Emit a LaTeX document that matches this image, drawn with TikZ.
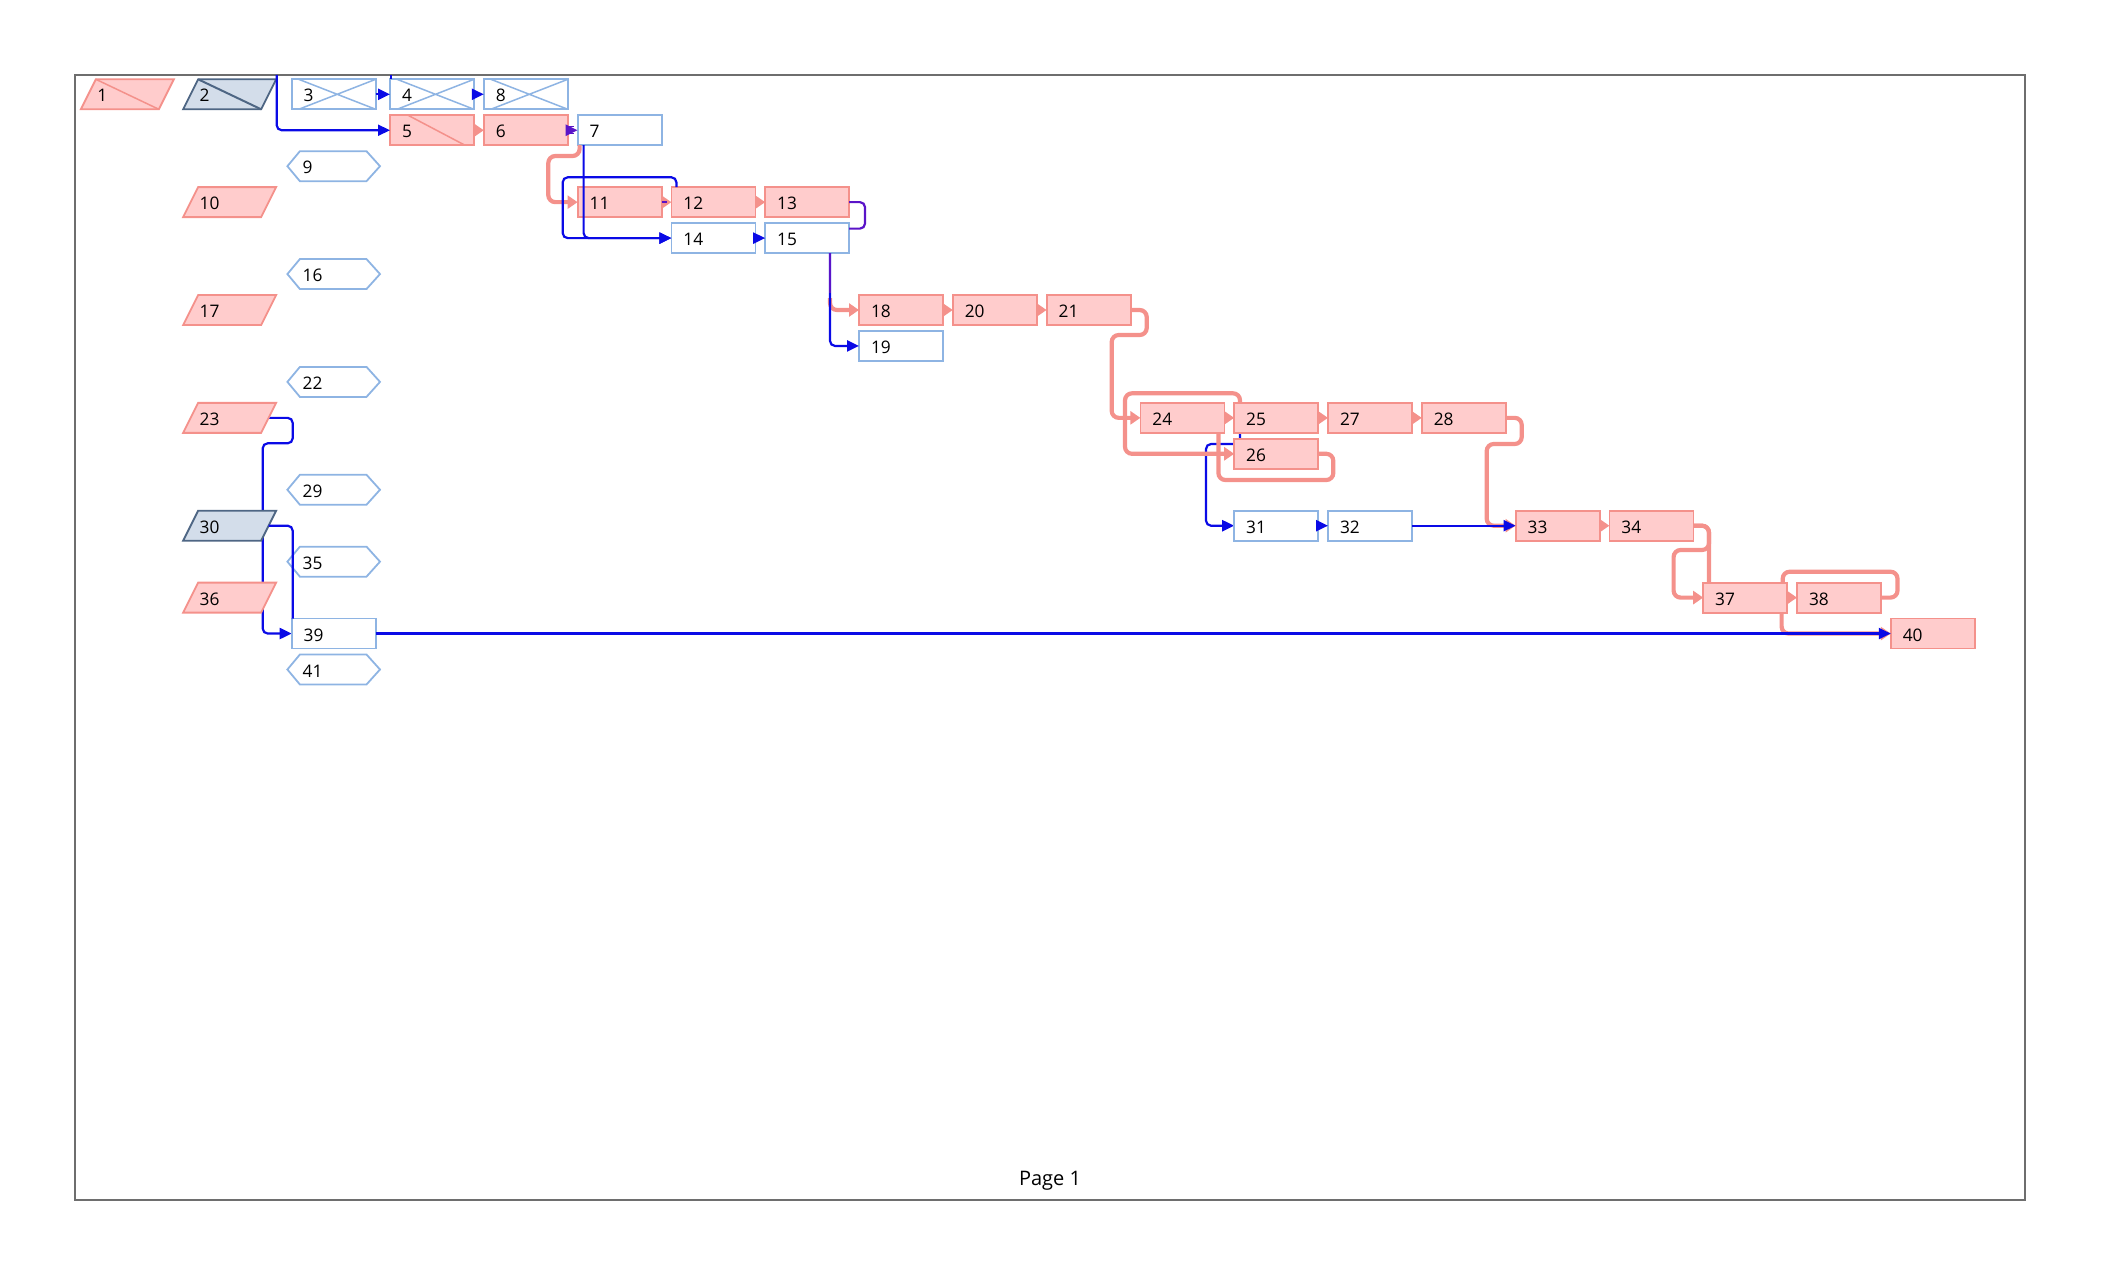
\documentclass[tikz,border=0pt]{standalone}
\usepackage{fontspec}
\setmainfont{Open Sans}
\usetikzlibrary{arrows.meta,calc}
\definecolor{pkfill}{HTML}{FFCCCC}
\definecolor{pkline}{HTML}{F4918B}
\definecolor{bxblue}{HTML}{8EB4E3}
\definecolor{lkblue}{HTML}{0A0AE6}
\definecolor{lkviolet}{HTML}{5A14C8}
\definecolor{gbfill}{HTML}{D3DDEA}
\definecolor{gbline}{HTML}{4E6684}
\definecolor{framegrey}{HTML}{6E6E6E}
\pgfdeclarelayer{back}
\pgfdeclarelayer{shapes}
\pgfsetlayers{back,shapes,main}
\newcommand\myhex[1]{\begin{pgfonlayer}{shapes}\path[hexline] (#1.west) -- ([xshift=12.5pt]#1.north west) -- ([xshift=-13.5pt]#1.north east) -- (#1.east) -- ([xshift=-13.5pt]#1.south east) -- ([xshift=12.5pt]#1.south west) -- cycle;\end{pgfonlayer}}
\newcommand\mypara[2]{\begin{pgfonlayer}{shapes}\path[#2] (#1.south west) -- ([xshift=15pt]#1.north west) -- (#1.north east) -- ([xshift=-15pt]#1.south east) -- cycle;\end{pgfonlayer}}
\newcommand\myparadiag[2]{\begin{pgfonlayer}{shapes}\draw[#2] ([xshift=15pt]#1.north west) -- ([xshift=-15pt]#1.south east);\end{pgfonlayer}}
\begin{document}
\begin{tikzpicture}[x=1pt,y=-1pt,
 lbl/.style={font=\fontsize{17.3}{20}\selectfont, align=left, inner ysep=0pt, outer sep=0pt, minimum height=30pt, text height=15.4pt, text depth=0pt},
 boxbase/.style={lbl, rectangle, line width=1.8pt, minimum width=84pt, text width=60pt, inner xsep=12pt},
 pinkbox/.style={boxbase, draw=pkline, fill=pkfill},
 bluebox/.style={boxbase, draw=bxblue, fill=white},
 crossbox/.style={bluebox, path picture={\draw[bxblue,line width=1.5pt] ([xshift=7pt]path picture bounding box.north west) -- (path picture bounding box.south east) ([xshift=7pt]path picture bounding box.south west) -- (path picture bounding box.north east);}},
 slashbox/.style={pinkbox, path picture={\draw[pkline,line width=1.5pt] ([xshift=18pt]path picture bounding box.north west) -- ([xshift=-9pt]path picture bounding box.south east);}},
 paranode/.style={lbl, rectangle, minimum width=93pt, text width=60pt, inner xsep=16.5pt},
 hexnode/.style={lbl, rectangle, minimum width=92.6pt, text width=62pt, inner xsep=15.3pt},
 pinkpara/.style={draw=pkline, fill=pkfill, line width=1.8pt},
 greypara/.style={draw=gbline, fill=gbfill, line width=1.8pt},
 hexline/.style={draw=bxblue, fill=white, line width=1.8pt},
 bl/.style={draw=lkblue, line width=2.2pt, rounded corners=5pt},
 pk/.style={draw=pkline, line width=4.2pt, rounded corners=7pt},
 btip/.style={-{Triangle[length=12pt,width=11pt]}},
 ptip/.style={-{Triangle[length=10pt,width=13pt]}},
]
\useasboundingbox (0,0) rectangle (2101,1276);
\draw[framegrey, line width=1.5pt] (75,75) rectangle (2025,1200);
\node[font=\fontsize{20}{24}\selectfont, anchor=base] (pg) at (1050,1185.7) {Page 1};

% parallelograms
\node[paranode] (n1) at (127.35,94.3) {1};
\mypara{n1}{pinkpara}\myparadiag{n1}{pkline,line width=1.5pt}
\node[paranode] (n2) at (229.65,94.3) {2};
\mypara{n2}{greypara}\myparadiag{n2}{gbline,line width=2pt}
\node[paranode] (n10) at (229.65,202.15) {10};
\mypara{n10}{pinkpara}
\node[paranode] (n17) at (229.65,310.0) {17};
\mypara{n17}{pinkpara}
\node[paranode] (n23) at (229.65,417.85) {23};
\mypara{n23}{pinkpara}
\node[paranode] (n30) at (229.65,525.7) {30};
\mypara{n30}{greypara}
\node[paranode] (n36) at (229.65,597.6) {36};
\mypara{n36}{pinkpara}

% hexagons
\node[hexnode] (n9) at (333.7,166.2) {9};\myhex{n9}
\node[hexnode] (n16) at (333.7,274.05) {16};\myhex{n16}
\node[hexnode] (n22) at (333.7,381.9) {22};\myhex{n22}
\node[hexnode] (n29) at (333.7,489.75) {29};\myhex{n29}
\node[hexnode] (n35) at (333.7,561.65) {35};\myhex{n35}
\node[hexnode] (n41) at (333.7,669.5) {41};\myhex{n41}

% boxes
\node[crossbox] (n3) at (333.7,94.3) {3};
\node[crossbox] (n4) at (432,94.3) {4};
\node[crossbox] (n8) at (525.8,94.3) {8};
\node[slashbox] (n5) at (432,130.25) {5};
\node[pinkbox] (n6) at (525.8,130.25) {6};
\node[bluebox] (n7) at (619.6,130.25) {7};
\node[pinkbox] (n11) at (619.6,202.15) {11};
\node[pinkbox] (n12) at (713.4,202.15) {12};
\node[pinkbox] (n13) at (807.2,202.15) {13};
\node[bluebox] (n14) at (713.4,238.1) {14};
\node[bluebox] (n15) at (807.2,238.1) {15};
\node[pinkbox] (n18) at (901,310.0) {18};
\node[pinkbox] (n20) at (994.8,310.0) {20};
\node[pinkbox] (n21) at (1088.6,310.0) {21};
\node[bluebox] (n19) at (901,345.95) {19};
\node[pinkbox] (n24) at (1182.4,417.85) {24};
\node[pinkbox] (n25) at (1276.2,417.85) {25};
\node[pinkbox] (n27) at (1370,417.85) {27};
\node[pinkbox] (n28) at (1463.8,417.85) {28};
\node[pinkbox] (n26) at (1276.2,453.8) {26};
\node[bluebox] (n31) at (1276.2,525.7) {31};
\node[bluebox] (n32) at (1370,525.7) {32};
\node[pinkbox] (n33) at (1557.6,525.7) {33};
\node[pinkbox] (n34) at (1651.4,525.7) {34};
\node[pinkbox] (n37) at (1745.2,597.6) {37};
\node[pinkbox] (n38) at (1839,597.6) {38};
\node[bluebox] (n39) at (333.7,633.55) {39};
\node[pinkbox] (n40) at (1932.8,633.55) {40};

% connectors under the nodes
\begin{pgfonlayer}{back}
\draw[bl,btip] ([xshift=-7.5pt]n23.east) -| (292.7,443.3) -| (262.7,633.55) -- (n39.west);
\draw[bl,btip] ([xshift=5.8pt]n25.south west) |- (1206,444) |- (n31.west);
\end{pgfonlayer}

% connectors
\coordinate (t1) at (276.7,75);
\coordinate (t2) at (391,75);
\draw[bl,btip] (t1) |- (n5.west);
\draw[bl] (t2) -- (t2 |- n4.north);
\draw[bl,btip] (n3.east) -- (n4.west);
\draw[bl,btip] (n4.east) -- (n8.west);
\draw[pk,ptip] (n5.east) -- (n6.west);
\draw[lkviolet,line width=1.2pt] ([yshift=3.5pt]n6.east) -- ([yshift=3.5pt,xshift=-4pt]n7.west);
\draw[lkviolet,line width=1.2pt] ([yshift=-3.5pt]n6.east) -- ([yshift=-3.5pt,xshift=-4pt]n7.west);
\draw[bl,btip,draw=lkviolet] (n6.east) -- (n7.west);

\draw[pk,ptip] ([xshift=2pt]n7.south west) |- (548.3,156) |- (n11.west);
\draw[bl,btip] ([xshift=6pt]n7.south west) |- (n14.west);
\draw[bl,btip] ([xshift=5pt]n12.north west) |- (562.7,177.3) |- (n14.west);
\draw[pk,ptip] (n11.east) -- (n12.west);
\draw[lkviolet,line width=2.2pt] (n11.east) -- ++(5,0);
\draw[pk,ptip] (n12.east) -- (n13.west);
\draw[bl,draw=lkviolet] (n13.east) -| (865,228.6) -- ($(n15.east)+(0,-9.5)$);
\draw[bl,btip] (n14.east) -- (n15.west);

\draw[pk,ptip] ($(n15.south west)+(64.8,45)$) |- (n18.west);
\draw[bl,btip] ([xshift=64.8pt]n15.south west) |- (n19.west);
\draw[lkviolet,line width=2.2pt] ([xshift=64.8pt]n15.south west) -- ++(0,40);
\draw[pk,ptip] (n18.east) -- (n20.west);
\draw[pk,ptip] (n20.east) -- (n21.west);
\draw[pk,ptip] (n21.east) -| (1146.7,335) -| (1111.7,417.85) -- (n24.west);
\draw[pk,ptip] (n24.east) -- (n25.west);
\draw[pk,ptip] ([xshift=5.8pt]n25.north west) |- (1125,393.3) |- (n26.west);
\draw[pk] ([xshift=-6pt]n24.south east) |- (1333.3,480) |- (n26.east);
\draw[pk,ptip] (n25.east) -- (n27.west);
\draw[pk,ptip] (n27.east) -- (n28.west);
\draw[bl,btip] (n31.east) -- (n32.west);
\draw[pk,ptip] (n28.east) -| (1521.7,444) -| (1486.7,525.7) -- (n33.west);
\draw[bl,btip] (n32.east) -- (n33.west);
\draw[pk,ptip] (n33.east) -- (n34.west);
\draw[pk,ptip] (n34.east) -| (1709,550) -| (1673.6,597.6) -- (n37.west);
\draw[pk] (n34.east) -| ([xshift=5.8pt]n37.north west);
\draw[pk,ptip] (n37.east) -- (n38.west);
\draw[pk] (n38.east) -| (1897.5,571.7) -| ([xshift=-4.5pt]n37.north east);
\draw[pk,ptip] ([xshift=-5.6pt]n37.south east) |- (n40.west);
\draw[bl,btip] (n39.east) -- (n40.west);
\draw[bl] ([xshift=-7.5pt]n30.east) -| ([xshift=1pt]n39.north west);
\end{tikzpicture}
\end{document}
